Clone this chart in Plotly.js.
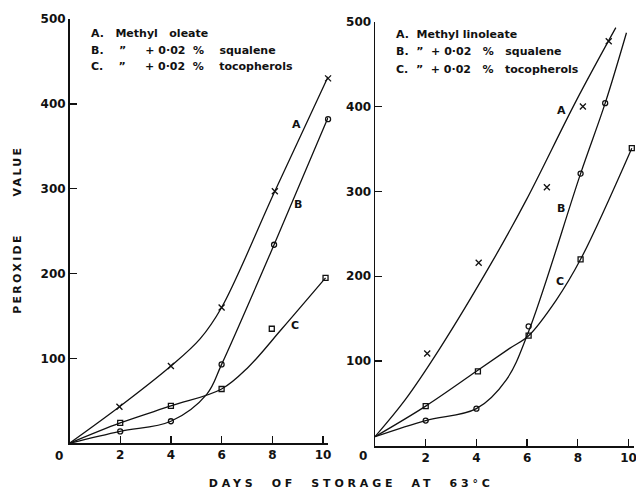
<!DOCTYPE html>
<html><head><meta charset="utf-8">
<script src="https://cdn.plot.ly/plotly-3.0.1.min.js"></script>
<style>html,body{margin:0;padding:0;background:#fff}</style>
</head><body><div id="chart" style="width:636px;height:490px"></div>
<script>
// ---------- Left panel: methyl oleate (measured points) ----------
const leftA_days = [1.97, 4.0, 6.0, 8.1, 10.2];
const leftA_pv   = [43, 91, 160, 297, 430];
const leftB_days = [2, 4, 6, 8.07, 10.2];
const leftB_pv   = [14, 26, 93, 234, 382];
const leftC_days = [2, 4, 6, 7.98, 10.1];
const leftC_pv   = [24, 44, 64, 135, 195];
// hand-drawn curves (left)
const leftA_curveDays = [0, 1.97, 4.0, 5.15, 6.0, 8.1, 10.2];
const leftA_curvePv   = [0, 43, 91, 123, 160, 297, 432];
const leftB_curveDays = [0, 2, 4, 5.42, 6, 8.07, 10.2];
const leftB_curvePv   = [0, 14, 26, 58, 93, 234, 384];
const leftC_curveDays = [0, 2, 4, 6, 7.06, 8.38, 10.1];
const leftC_curvePv   = [0, 24, 44, 64, 90, 135, 195];

// ---------- Right panel: methyl linoleate (measured points) ----------
const rightA_days = [2.06, 4.09, 6.78, 8.2, 9.22];
const rightA_pv   = [109, 216, 305, 400, 477];
const rightB_days = [2, 4, 6.06, 8.11, 9.08];
const rightB_pv   = [30, 44, 141, 321, 404];
const rightC_days = [2, 4.06, 6.06, 8.11, 10.13];
const rightC_pv   = [47, 88, 130, 220, 351];
// hand-drawn curves (right)
const rightA_curveDays = [0, 1.18, 2.56, 4.6, 5.97, 7.94, 9.5];
const rightA_curvePv   = [11, 54, 115, 216, 290, 407, 493];
const rightB_curveDays = [0, 2, 4, 5.18, 6.06, 8.11, 9.08, 9.92];
const rightB_curvePv   = [11, 30, 44, 78, 135, 321, 404, 487];
const rightC_curveDays = [0, 2, 4, 5.31, 6.06, 7.15, 8.11, 10.13];
const rightC_curvePv   = [11, 47, 88, 115, 130, 172, 220, 351];

// ---------- Text ----------
const xTickVals = [2, 4, 6, 8, 10];
const xTickText = ['2', '4', '6', '8', '10'];
const yTickVals = [100, 200, 300, 400, 500];
const yTickText = ['100', '200', '300', '400', '500'];
const originLabel = '0';
const NB = n => '\u00a0'.repeat(n);
const leftLegend = ['A.' + NB(3) + 'Methyl' + NB(3) + 'oleate',
                    'B.' + NB(4) + '\u201d' + NB(5) + '+' + NB(1) + '0\u00b702' + NB(2) + '%' + NB(4) + 'squalene',
                    'C.' + NB(4) + '\u201d' + NB(5) + '+' + NB(1) + '0\u00b702' + NB(2) + '%' + NB(4) + 'tocopherols'];
const rightLegend = ['A.' + NB(2) + 'Methyl' + NB(1) + 'linoleate',
                     'B.' + NB(2) + '\u201d' + NB(2) + '+' + NB(1) + '0\u00b702' + NB(3) + '%' + NB(3) + 'squalene',
                     'C.' + NB(2) + '\u201d' + NB(2) + '+' + NB(1) + '0\u00b702' + NB(3) + '%' + NB(3) + 'tocopherols'];
const curveLabels = ['A', 'B', 'C'];
const leftLabelPos  = {x: [8.96, 9.02, 8.9], y: [376, 281, 139]};
const rightLabelPos = {x: [7.35, 7.35, 7.3], y: [395, 280, 194]};
const xTitle = 'DAYS' + NB(2) + 'OF' + NB(2) + 'STORAGE' + NB(2) + 'AT' + NB(2) + '63\u00b0C';
const yTitle = 'PEROXIDE' + NB(6) + 'VALUE';

// ---------- Styling / layout ----------
const W = 636, H = 490;
const px = v => v / W, py = v => 1 - v / H;
const FONT = 'DejaVu Sans, sans-serif';
const lineStyle = {color: '#111', width: 1.3, shape: 'spline', smoothing: 1};
const DAY_PX = 25.35, XMAX = 10.2;

function curve(xs, ys, ax) {
  return {x: xs, y: ys, xaxis: ax[0], yaxis: ax[1], mode: 'lines', line: lineStyle,
          hoverinfo: 'skip', showlegend: false, cliponaxis: false};
}
function pts(xs, ys, ax, sym) {
  return {x: xs, y: ys, xaxis: ax[0], yaxis: ax[1], mode: 'markers', showlegend: false,
          cliponaxis: false,
          marker: {symbol: sym, size: sym === 'x-thin-open' ? 6 : 5, color: '#111',
                   line: {color: '#111', width: 1.3}}};
}
const L = ['x', 'y'], R = ['x2', 'y2'];
const data = [
  curve(leftA_curveDays, leftA_curvePv, L), curve(leftB_curveDays, leftB_curvePv, L),
  curve(leftC_curveDays, leftC_curvePv, L),
  pts(leftA_days, leftA_pv, L, 'x-thin-open'), pts(leftB_days, leftB_pv, L, 'circle-open'),
  pts(leftC_days, leftC_pv, L, 'square-open'),
  curve(rightA_curveDays, rightA_curvePv, R), curve(rightB_curveDays, rightB_curvePv, R),
  curve(rightC_curveDays, rightC_curvePv, R),
  pts(rightA_days, rightA_pv, R, 'x-thin-open'), pts(rightB_days, rightB_pv, R, 'circle-open'),
  pts(rightC_days, rightC_pv, R, 'square-open')
];

const tickFont = {family: FONT, size: 12, color: '#111', weight: 'bold'};
function xa(x0, anchor) {
  return {domain: [px(x0), px(x0 + DAY_PX * XMAX)], anchor: anchor, range: [0, XMAX],
          showgrid: false, zeroline: false, ticklabeloverflow: 'allow',
          showline: true, linecolor: '#111', linewidth: 1.5, ticks: 'inside', ticklen: 7,
          tickwidth: 1.3, tickcolor: '#111', tickvals: xTickVals, ticktext: xTickText,
          tickfont: tickFont, fixedrange: true};
}
function ya(domain, anchor) {
  return {domain: domain, anchor: anchor, range: [0, 500], showgrid: false, zeroline: false,
          showline: true, linecolor: '#111', linewidth: 1.5, ticks: 'inside', ticklen: 7,
          tickwidth: 1.3, tickcolor: '#111', tickvals: yTickVals, ticktext: yTickText,
          tickfont: tickFont, fixedrange: true};
}

const ann = [];
const legFont = {family: FONT, size: 11, color: '#111', weight: 'bold'};
[33, 50, 67].forEach((yy, i) => ann.push({xref: 'paper', yref: 'paper', x: px(89), y: py(yy),
  xanchor: 'left', yanchor: 'middle', text: leftLegend[i], showarrow: false, font: legFont}));
[35, 52, 70].forEach((yy, i) => ann.push({xref: 'paper', yref: 'paper', x: px(394), y: py(yy),
  xanchor: 'left', yanchor: 'middle', text: rightLegend[i], showarrow: false, font: legFont}));
curveLabels.forEach((t, i) => {
  ann.push({xref: 'x', yref: 'y', x: leftLabelPos.x[i], y: leftLabelPos.y[i], text: t,
            showarrow: false, font: legFont});
  ann.push({xref: 'x2', yref: 'y2', x: rightLabelPos.x[i], y: rightLabelPos.y[i], text: t,
            showarrow: false, font: legFont});
});
ann.push({xref: 'paper', yref: 'paper', x: px(59), y: py(456), xanchor: 'center', yanchor: 'middle',
          text: originLabel, showarrow: false, font: tickFont});
ann.push({xref: 'paper', yref: 'paper', x: px(363), y: py(456), xanchor: 'center', yanchor: 'middle',
          text: originLabel, showarrow: false, font: tickFont});
ann.push({xref: 'paper', yref: 'paper', x: px(351), y: py(483), yanchor: 'middle', text: xTitle,
          showarrow: false, font: {family: FONT, size: 11, color: '#111', weight: 'bold'}});
ann.push({xref: 'paper', yref: 'paper', x: px(17), y: py(230), xanchor: 'center', text: yTitle,
          showarrow: false, textangle: -90,
          font: {family: FONT, size: 11, color: '#111', weight: 'bold'}});

const layout = {
  width: W, height: H, margin: {l: 0, r: 0, t: 0, b: 0},
  paper_bgcolor: '#fff', plot_bgcolor: 'rgba(0,0,0,0)', showlegend: false,
  xaxis: xa(69.5, 'y'),
  yaxis: ya([1 - 443.3 / H, 1 - 19 / H], 'x'),
  xaxis2: xa(375, 'y2'),
  yaxis2: ya([1 - 446 / H, 1 - 21.7 / H], 'x2'),
  annotations: ann
};

Plotly.newPlot('chart', data, layout, {staticPlot: true}).then(() => {
  document.querySelectorAll('.annotation-text').forEach(el => {
    const t = el.textContent;
    if (t.indexOf('DAYS') === 0) el.style.letterSpacing = '3.8px';
    if (t.indexOf('PEROXIDE') === 0) el.style.letterSpacing = '2.3px';
  });
});
</script></body></html>
